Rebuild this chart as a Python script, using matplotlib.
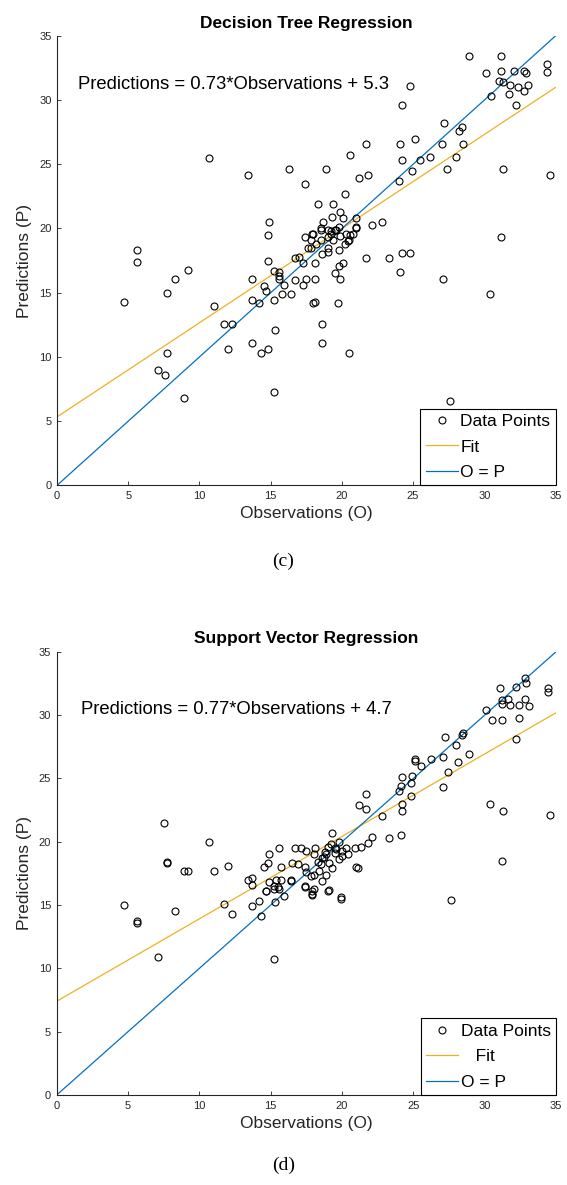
import matplotlib
matplotlib.use("Agg")
import matplotlib.pyplot as plt
import numpy as np

plt.rcParams['font.family'] = ['Liberation Sans', 'DejaVu Sans']

BLUE = "#0072BD"
YELLOW = "#EDB120"
AX_COLOR = "#262626"

# --- (c) Decision Tree Regression ---
dt_obs = [28.9, 31.2, 30.1, 31.2, 32.1, 32.8, 32.9, 34.4, 34.4, 31.0, 31.3, 31.8, 32.4, 33.1, 32.8, 31.7, 30.5, 32.2,
          24.8, 24.2, 27.2, 28.2, 28.4, 28.5, 27.0, 28.0, 27.4, 31.3, 34.6, 31.2, 24.1, 25.1, 21.7, 24.2, 24.9, 25.5,
          26.2, 24.0, 20.6, 21.8, 21.2, 20.2, 16.3, 18.9, 17.4, 13.4, 10.7,
          18.3, 19.4, 19.9, 20.1, 21.0, 19.3, 18.7, 18.5, 17.9, 17.4, 19.2, 19.6, 19.8, 20.3, 21.0, 21.0, 22.1, 22.8,
          14.9, 14.8, 17.6, 17.8, 19.0, 19.8, 19.0, 20.4, 18.0, 18.5, 19.0, 19.2, 19.5, 20.6, 19.9, 19.4, 19.0, 18.5,
          17.8, 20.2, 20.5, 20.8, 18.2, 18.6,
          21.7, 23.3, 24.2, 24.8, 24.1, 27.1, 30.4, 14.8, 15.2, 15.6, 16.7, 17.0, 17.3, 18.1, 20.1, 19.8, 19.5, 19.9,
          18.1, 17.5, 16.7, 17.3, 15.6, 15.9, 13.7, 14.5, 14.7, 15.8, 16.4, 15.6,
          5.6, 5.6, 9.2, 8.3, 7.7, 4.7, 11.0, 11.7, 12.3, 12.0, 13.7, 14.2, 15.2, 13.7, 14.8, 14.3, 15.3, 15.2,
          18.1, 18.0, 19.7, 18.6, 18.6, 20.5, 7.1, 7.6, 7.7, 8.9, 27.6]
dt_pred = [33.4, 33.4, 32.1, 32.3, 32.3, 32.3, 32.1, 32.8, 32.2, 31.5, 31.4, 31.2, 31.0, 31.2, 30.7, 30.5, 30.3, 29.6,
           31.1, 29.6, 28.2, 27.6, 27.9, 26.6, 26.6, 25.6, 24.6, 24.6, 24.2, 19.3, 26.6, 27.0, 26.6, 25.3, 24.5, 25.3,
           25.6, 23.7, 25.7, 24.2, 23.9, 22.7, 24.6, 24.6, 23.5, 24.2, 25.5,
           21.9, 21.9, 21.3, 20.8, 20.8, 20.9, 20.5, 20.0, 19.6, 19.3, 19.8, 19.9, 20.1, 19.6, 20.1, 20.0, 20.3, 20.5,
           20.5, 19.5, 18.5, 18.5, 18.5, 18.3, 18.2, 19.0, 19.6, 19.9, 19.9, 19.6, 19.9, 19.5, 19.4, 19.1, 19.3, 19.1,
           19.1, 18.8, 19.1, 19.6, 18.8, 18.0,
           17.7, 17.7, 18.1, 18.1, 16.6, 16.1, 14.9, 17.5, 16.7, 16.6, 17.7, 17.8, 17.3, 17.3, 17.3, 17.1, 16.5, 16.1,
           16.1, 16.1, 16.0, 15.6, 16.1, 15.6, 16.1, 15.5, 15.1, 14.9, 14.9, 16.3,
           18.3, 17.4, 16.8, 16.1, 15.0, 14.3, 14.0, 12.6, 12.6, 10.6, 14.4, 14.2, 14.4, 11.1, 10.6, 10.3, 12.1, 7.3,
           14.3, 14.2, 14.2, 12.6, 11.1, 10.3, 9.0, 8.6, 10.3, 6.8, 6.6]

# --- (d) Support Vector Regression ---
svr_obs = [31.1, 32.8, 32.9, 32.2, 34.4, 34.4, 31.2, 31.6, 31.2, 31.8, 32.4, 32.8, 33.1, 30.1, 30.5, 31.2, 32.4, 32.2,
           27.2, 28.4, 28.5, 28.0, 28.9, 27.1, 25.1, 25.1, 25.5, 26.2, 28.1, 27.4, 27.1, 24.2, 24.9, 24.8, 24.0, 24.1,
           24.8, 24.2, 24.2, 21.7, 21.2, 21.7, 22.8, 22.1, 21.8, 23.3, 24.1, 30.4, 31.3, 34.6, 31.2,
           7.5, 10.7, 7.7, 7.7, 8.9, 9.2, 11.0, 12.0,
           19.3, 15.6, 14.9, 16.7, 17.1, 17.5, 18.1, 14.5, 14.8, 15.7, 16.5, 16.9, 17.4, 13.4, 13.7, 13.7, 14.9, 15.4,
           15.7, 16.4, 17.5, 17.8, 18.0, 18.4, 18.9, 17.4, 17.9, 17.9, 19.0, 19.9, 14.7, 15.2, 15.6,
           21.0, 21.1, 21.3, 20.9, 20.4, 20.0, 19.8, 19.5, 19.0, 18.9, 18.6, 18.3, 19.1, 19.8, 20.0, 19.3, 18.5, 18.8,
           19.5, 18.0, 20.3, 19.2, 19.6, 18.7,
           4.7, 5.6, 5.65, 8.3, 7.1, 11.7, 12.3, 13.7, 14.2, 14.3, 14.7, 15.2, 15.5, 15.3, 15.9, 15.2, 17.4, 17.9, 18.0,
           19.1, 19.9, 27.6, 18.6, 16.4]
svr_pred = [32.1, 32.9, 32.5, 32.2, 32.1, 31.8, 31.2, 31.3, 30.9, 30.8, 30.8, 31.3, 30.7, 30.4, 29.6, 29.6, 29.8, 28.1,
            28.3, 28.4, 28.6, 27.6, 26.9, 26.7, 26.5, 26.4, 26.0, 26.5, 26.3, 25.5, 24.3, 25.1, 25.2, 24.6, 24.0, 24.4,
            23.6, 23.0, 22.4, 23.8, 22.9, 22.6, 22.0, 20.4, 19.9, 20.3, 20.5, 23.0, 22.4, 22.1, 18.5,
            21.5, 20.0, 18.4, 18.3, 17.7, 17.7, 17.7, 18.1,
            20.7, 19.5, 19.0, 19.5, 19.5, 19.3, 19.5, 18.0, 18.3, 18.0, 18.3, 18.2, 18.0, 17.0, 17.1, 16.6, 16.8, 17.0,
            17.0, 16.9, 17.6, 17.3, 17.4, 17.7, 17.4, 16.4, 16.1, 15.8, 16.1, 15.5, 16.1, 16.3, 16.3,
            18.0, 17.9, 19.6, 19.5, 19.0, 19.3, 20.0, 19.5, 19.6, 19.0, 18.7, 18.4, 18.3, 18.6, 18.9, 17.9, 18.2, 19.2,
            19.1, 19.0, 19.5, 19.8, 19.4, 18.8,
            15.0, 13.7, 13.6, 14.5, 10.9, 15.1, 14.3, 14.9, 15.3, 14.1, 16.1, 16.5, 16.4, 15.2, 15.7, 10.7, 16.5, 15.9,
            16.3, 16.2, 15.6, 15.4, 16.9, 17.0]

# fit lines as drawn in the figure (slope, intercept) and the printed equations
fit_lines = [(0.733, 5.33), (0.651, 7.4)]
equations = ["Predictions = 0.73*Observations + 5.3", "Predictions = 0.77*Observations + 4.7"]
titles = ["Decision Tree Regression", "Support Vector Regression"]
captions = ["(c)", "(d)"]
fit_labels = ["Fit", "   Fit"]

W, H = 567, 1185
fig = plt.figure(figsize=(W / 100, H / 100), dpi=100)

# axes rectangles in pixels: left, top, right, bottom
boxes = [(57.1, 35.9, 555.5, 485.3), (56.7, 651.7, 556.1, 1095.0)]
caption_y = [561, 1165]
eq_pos = [(1.5, 31.2), (1.7, 30.4)]

data = [(dt_obs, dt_pred), (svr_obs, svr_pred)]

for i in range(2):
    l, t, r, b = boxes[i]
    ax = fig.add_axes([l / W, 1 - b / H, (r - l) / W, (b - t) / H])
    obs, pred = data[i]
    ax.plot(obs, pred, 'o', ms=5, mfc='none', mec='black', mew=0.8, label='Data Points', zorder=3)
    xs = np.array([0, 35])
    slope, icpt = fit_lines[i]
    ax.plot(xs, slope * xs + icpt, color=YELLOW, lw=0.9, label=fit_labels[i])
    ax.plot(xs, xs, color=BLUE, lw=0.9, label='O = P')

    ax.set_xlim(0, 35)
    ax.set_ylim(0, 35)
    ax.set_xticks(range(0, 36, 5))
    ax.set_yticks(range(0, 36, 5))
    for s in ['top', 'right']:
        ax.spines[s].set_visible(False)
    for s in ['left', 'bottom']:
        ax.spines[s].set_color(AX_COLOR)
        ax.spines[s].set_linewidth(0.8)
    ax.tick_params(direction='in', length=3, width=0.6, labelsize=8, colors=AX_COLOR, pad=4)

    ax.set_xlabel("Observations (O)", fontsize=12.5, color=AX_COLOR, labelpad=4)
    ax.set_ylabel("Predictions (P)", fontsize=12.5, color=AX_COLOR, labelpad=5)
    ax.set_title(titles[i], fontsize=12.5, fontweight='bold', pad=6)
    ax.text(eq_pos[i][0], eq_pos[i][1], equations[i], fontsize=13.3, va='center', ha='left')

    leg = ax.legend(loc='lower right', borderaxespad=0, fontsize=12.5, fancybox=False,
                    edgecolor='black', framealpha=1, handlelength=1.85, handletextpad=0.15,
                    borderpad=0.3, labelspacing=0.6)
    leg.get_frame().set_linewidth(0.8)

    fig.text(((l + r) / 2 - 23) / W, 1 - caption_y[i] / H, captions[i], ha='center', va='center',
             fontsize=14, family=['Liberation Serif', 'DejaVu Serif'])

fig.savefig("out.png", dpi=100)
